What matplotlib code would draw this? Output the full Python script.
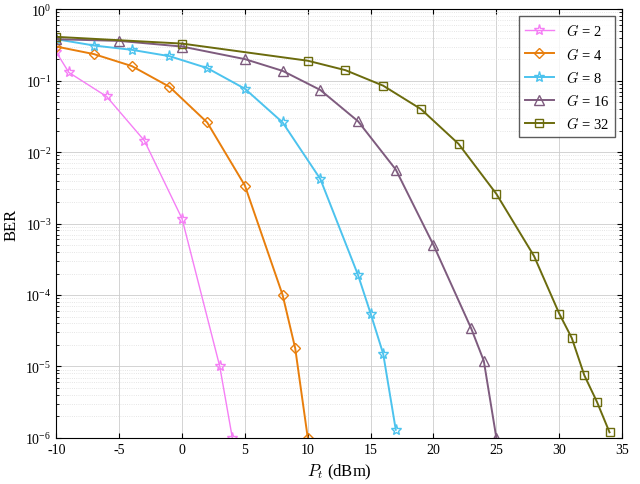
import numpy as np
import matplotlib
matplotlib.use("Agg")
import matplotlib.pyplot as plt

plt.rcParams['mathtext.fontset'] = 'cm'
plt.rcParams['font.family'] = ['Liberation Serif', 'DejaVu Serif']
plt.rcParams['axes.unicode_minus'] = False

x2 = [-10, -9, -6, -3, 0, 3, 4]
y2 = [0.25, 0.13, 0.06, 0.0145, 1.17e-3, 1e-5, 1e-6]
x4 = [-10, -7, -4, -1, 2, 5, 8, 9, 10]
y4 = [0.30, 0.235, 0.16, 0.082, 0.026, 3.4e-3, 1e-4, 1.8e-5, 1e-6]
x8 = [-10, -7, -4, -1, 2, 5, 8, 11, 14, 15, 16, 17]
y8 = [0.38, 0.31, 0.27, 0.22, 0.15, 0.077, 0.026, 4.2e-3, 1.9e-4, 5.5e-5, 1.5e-5, 1.3e-6]
x16 = [-10, -5, 0, 5, 8, 11, 14, 17, 20, 23, 24, 25]
y16 = [0.38, 0.36, 0.30, 0.20, 0.137, 0.074, 0.027, 5.7e-3, 5e-4, 3.4e-5, 1.2e-5, 1e-6]
x32 = [-10, 0, 10, 13, 16, 19, 22, 25, 28, 30, 31, 32, 33, 34]
y32 = [0.41, 0.33, 0.19, 0.14, 0.085, 0.04, 0.013, 2.6e-3, 3.5e-4, 5.5e-5, 2.5e-5, 7.5e-6, 3.2e-6, 1.2e-6]

fig, ax = plt.subplots(figsize=(6.4, 4.85), dpi=100)
ax.semilogy(x2, y2, '-*', color='#f57ef5', mfc='none', ms=8, lw=1, label='$G$ = 2')
ax.semilogy(x4, y4, '-D', color='#e87e0c', mfc='none', ms=5.5, lw=1.4, label='$G$ = 4')
ax.semilogy(x8, y8, '-*', color='#4cc3ee', mfc='none', ms=8, lw=1.4, label='$G$ = 8')
ax.semilogy(x16, y16, '-^', color='#7e5b7e', mfc='none', ms=7, lw=1.4, label='$G$ = 16')
ax.semilogy(x32, y32, '-s', color='#6b6b0d', mfc='none', ms=6, lw=1.4, label='$G$ = 32')

ax.set_xlim(-10, 35)
ax.set_ylim(1e-6, 1)
ax.set_xticks(range(-10, 36, 5))
ax.grid(True, which='major', color='#cccccc', lw=0.6)
ax.grid(True, which='minor', color='#dddddd', ls=':', lw=0.6)
ax.tick_params(which='both', direction='in', top=True, right=True)
ax.set_xlabel('$P_t$ (dBm)', fontsize=12)
ax.set_ylabel('BER', fontsize=12)
ax.legend(loc='upper right', fontsize=10.5, fancybox=False, edgecolor='#333333')
fig.subplots_adjust(left=0.088, right=0.972, top=0.979, bottom=0.095)
fig.savefig('out.png')
